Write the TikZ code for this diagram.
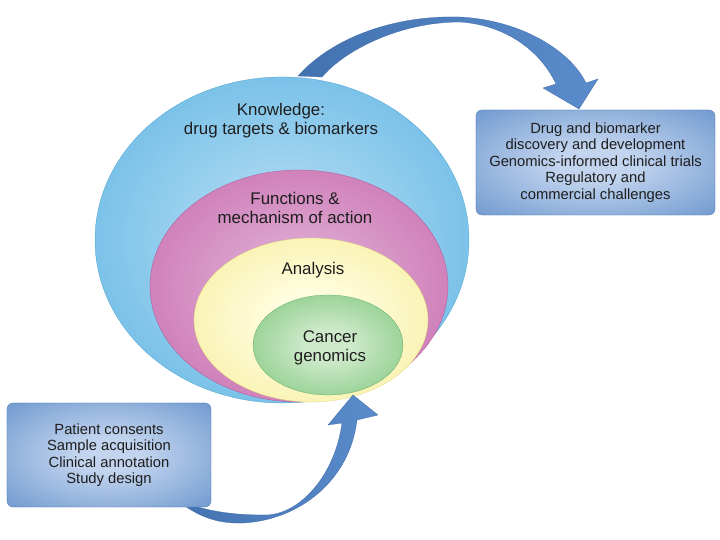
\documentclass[tikz,border=0pt]{standalone}
\usepackage{fontspec}
\setmainfont{Liberation Sans}
\usepackage{tikz}
\usetikzlibrary{positioning,shapes.geometric}
\usepackage{xcolor}
\definecolor{inkgray}{HTML}{1E1E1E}
\definecolor{skyin}{HTML}{A8D7F1}
\definecolor{skyrim}{HTML}{3FA6DE}
\definecolor{plumin}{HTML}{DDA7D1}
\definecolor{plumrim}{HTML}{BF4F9C}
\definecolor{lemonin}{HTML}{FFFDE0}
\definecolor{lemonrim}{HTML}{F2E77E}
\definecolor{leafin}{HTML}{CDE9C9}
\definecolor{leafrim}{HTML}{5CB65B}
\definecolor{boxin}{HTML}{C2D4EE}
\definecolor{boxrim}{HTML}{4C80C2}
\definecolor{arrowblue}{HTML}{5A8BCB}
\definecolor{arrowdark}{HTML}{4272B0}
\definecolor{arrowedge}{HTML}{3A64A0}
\colorlet{glowin}{white}
\colorlet{glowout}{black}
\pgfdeclareradialshading[glowin,glowout]{softglow}{\pgfpoint{0bp}{0bp}}{%
  color(0bp)=(glowin); color(8bp)=(glowin); color(48bp)=(glowout); color(75bp)=(glowout)}

\begin{document}
\begin{tikzpicture}[
      x=0.03cm, y=-0.03cm,
      glow/.style 2 args={/utils/exec={\colorlet{glowin}{#1}\colorlet{glowout}{#2}},
        shading=softglow, shade},
      ring/.style={ellipse, inner sep=0pt, outer sep=0pt, very thin},
      ringtext/.style={font=\fontsize{14.4}{16.2}\selectfont, text=inkgray, align=center},
      infobox/.style={
        rounded corners=5pt,
        draw=boxrim!85!black, very thin,
        glow={boxin}{boxrim},
        inner sep=0pt,
        align=center,
        font=\fontsize{12.6}{14}\selectfont,
        text=inkgray
      },
      bigarrow/.style={draw=arrowedge, very thin, left color=arrowdark, right color=arrowblue}
    ]
      \useasboundingbox (0,0) rectangle (720,540);

      % arrow from knowledge to the right box
      \coordinate (topTailA) at (298,76);
      \coordinate (topTailB) at (322,77);
      \coordinate (topTip) at (579,109);
      \path[bigarrow] (topTailA) .. controls (330,40) and (390,15) .. (460,17)
        .. controls (520,20) and (570,50) .. (586,83) -- (598,79) -- (topTip)
        -- (543,88) -- (556,84) .. controls (540,50) and (505,25) .. (460,22)
        .. controls (400,22) and (345,50) .. (topTailB) -- cycle;

      % nested rings
      \node[ring, draw=skyrim!90!black, glow={skyin}{skyrim},
        minimum width=11.22cm, minimum height=9.78cm] (know) at (282,240) {};
      \node[ring, draw=plumrim!90!black, glow={plumin}{plumrim},
        minimum width=8.94cm, minimum height=6.96cm] (func) at (299,286) {};
      \node[ring, draw=lemonrim!90!black, glow={lemonin}{lemonrim},
        minimum width=7.02cm, minimum height=4.92cm] (anal) at (311,320) {};
      \node[ring, draw=leafrim!90!black, glow={leafin}{leafrim},
        minimum width=4.5cm, minimum height=3cm] (genom) at (328,345) {};

      \node[ringtext] (knowlbl) at (281,121) {Knowledge:\\drug targets \& biomarkers};
      \node[ringtext] (funclbl) at (295,208) {Functions \&\\mechanism of action};
      \node[ringtext] (anallbl) at (313,270) {Analysis};
      \node[ringtext] (genomlbl) at (330,348) {Cancer\\genomics};

      % arrow from the patient box into the rings
      \coordinate (botTail) at (176,499);
      \coordinate (botTip) at (353,395);
      \path[bigarrow] (botTail) .. controls (195,515) and (215,524) .. (243,523)
        .. controls (300,520) and (350,480) .. (357,420) -- (378,415) -- (botTip)
        -- (328,425) -- (342,423) .. controls (335,475) and (300,515) .. (265,515)
        .. controls (235,515) and (205,512) .. (botTail) -- cycle;

      \node[infobox, minimum width=7.17cm, minimum height=3.15cm] (drugbox) at (595.5,162.5) {
        Drug and biomarker\\
        discovery and development\\
        Genomics-informed clinical trials\\
        Regulatory and\\
        commercial challenges
      };
      \node[infobox, minimum width=6.12cm, minimum height=3.12cm] (patbox) at (109,455) {
        Patient consents\\
        Sample acquisition\\
        Clinical annotation\\
        Study design
      };
    \end{tikzpicture}
\end{document}
